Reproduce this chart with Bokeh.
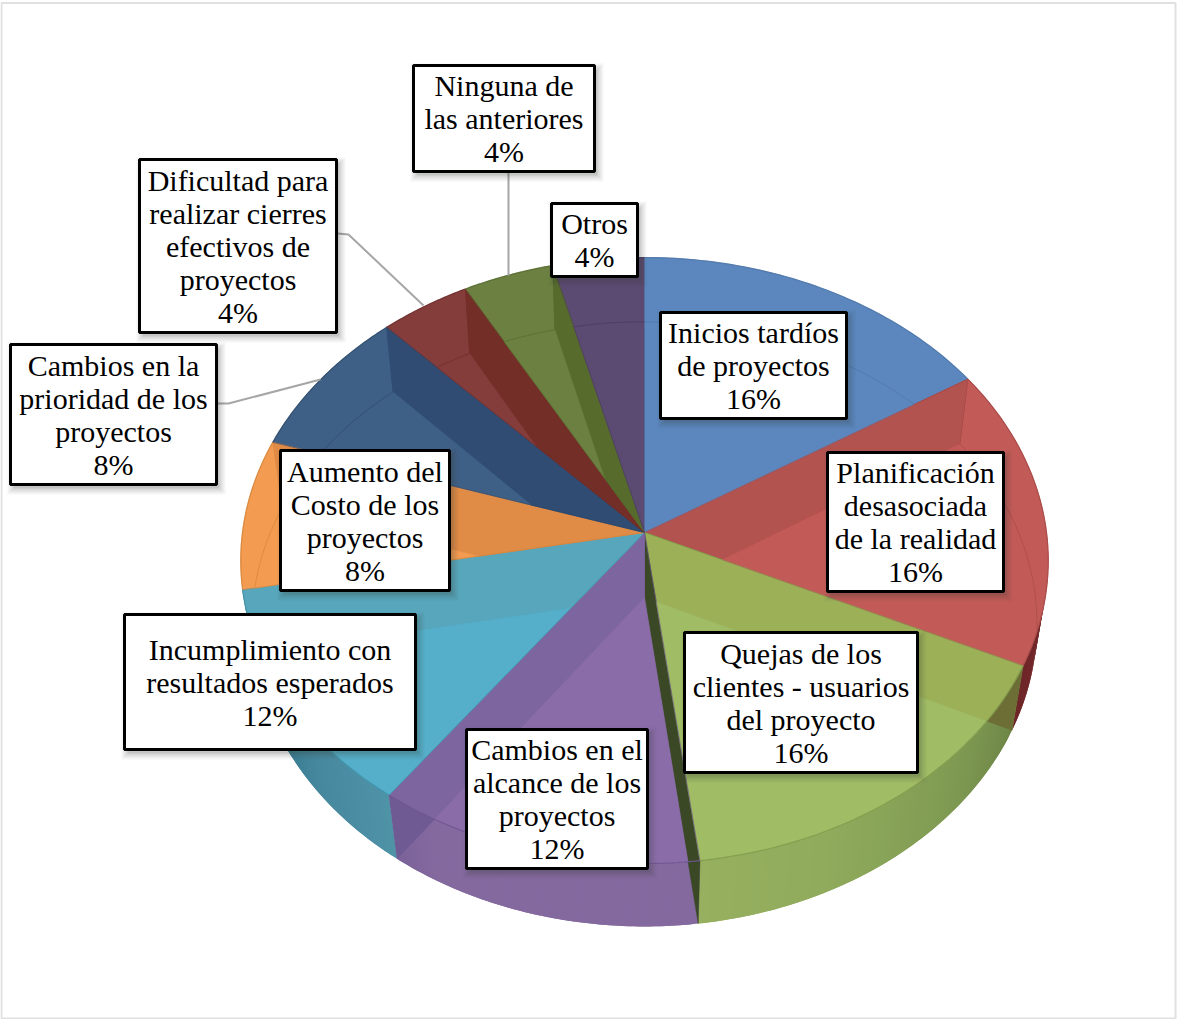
import numpy as np
from bokeh.core.properties import value
from bokeh.embed import file_html
from bokeh.models import ColumnDataSource
from bokeh.plotting import figure
from bokeh.resources import INLINE

# Survey results, clockwise from twelve o'clock
categories = [
    "Inicios tardíos\nde proyectos",
    "Planificación\ndesasociada\nde la realidad",
    "Quejas de los\nclientes - usuarios\ndel proyecto",
    "Cambios en el\nalcance de los\nproyectos",
    "Incumplimiento con\nresultados esperados",
    "Aumento del\nCosto de los\nproyectos",
    "Cambios en la\nprioridad de los\nproyectos",
    "Dificultad para\nrealizar cierres\nefectivos de\nproyectos",
    "Ninguna de\nlas anteriores",
    "Otros",
]
shares = [16, 16, 16, 12, 12, 8, 8, 4, 4, 4]

# Face colour and the darker colour of the cut wall seen through it
face_colors = ["#5B87BE", "#C25B58", "#A0BC65", "#8A6DA8", "#55AFCA",
               "#F39B50", "#3F6086", "#843D3B", "#6C8141", "#5B4A71"]
cut_colors = ["#5B87BE", "#B25350", "#9CB058", "#7D659F", "#58A6BB",
              "#E08B46", "#304C72", "#742E28", "#576B2D", "#5B4A71"]
# Same cuts where they run past the top rim and into the outer wall
cut_wall_colors = ["#5B87BE", "#8A3232", "#6C6E35", "#6F5A94", "#58A6BB",
                   "#E08B46", "#304C72", "#742E28", "#576B2D", "#5B4A71"]
rim_colors = ["#4F77A8", "#A84C4A", "#7F9A4C", "#6F5690", "#4090A8",
              "#D58538", "#2D4A6C", "#6E2E2C", "#556A30", "#483A5C"]
FRONT_CUT_COLOR = "#3B4826"

# Outer wall shading: (fraction through the slice, colour)
wall_stops = {
    1: [(0.0, "#8A3232"), (1.0, "#6E2628")],
    2: [(0.0, "#6D8446"), (0.3, "#7E9A52"), (0.7, "#90AB5C"), (1.0, "#96B05F")],
    3: [(0.0, "#84699F"), (0.85, "#84699F"), (1.0, "#7A6299")],
    4: [(0.0, "#4F93A7"), (0.35, "#46889E"), (0.65, "#35788F"), (1.0, "#58A6BB")],
}

# Label boxes: left, right, top, bottom
boxes = [
    (660, 846, 312, 418), (827, 1003, 452, 591), (684, 917, 632, 772),
    (466, 647, 729, 868), (124, 415, 614, 749), (280, 449, 450, 590),
    (10, 216, 344, 484), (139, 336, 159, 332), (413, 594, 65, 171),
    (551, 637, 203, 276),
]
# Leader lines from the outlying labels to their slices
leaders = [
    ([217, 228, 320], [403, 403, 379]),
    ([337, 348, 423], [233, 234, 305]),
    ([508, 508], [172, 275]),
]

LINE_STEP = 33
FONT = value("Liberation Serif")

# Projected circles of the pie's two faces: apex, radii, perspective term
TOP = dict(cx=644, cy=532, a=402, b=300.4, k=0.0925)
BASE = dict(cx=644, cy=597, a=391, b=300, k=0.088)


def project(face, theta):
    s, c = np.sin(theta), np.cos(theta)
    w = 1 + face["k"] * c
    return face["cx"] + face["a"] * s / w, face["cy"] - face["b"] * c / w


def arc(face, t0, t1, n=60):
    return project(face, np.linspace(t0, t1, n))


def wedge(face, t0, t1):
    x, y = arc(face, t0, t1)
    return list(zip(np.r_[face["cx"], x], np.r_[face["cy"], y]))


def enlarged(poly, factor):
    """The wedge scaled about its apex, its first point."""
    ax, ay = poly[0]
    return [(ax + (x - ax) * factor, ay + (y - ay) * factor) for x, y in poly]


def orientation(poly):
    return np.sign(sum(a[0] * b[1] - b[0] * a[1] for a, b in zip(poly, poly[1:] + poly[:1])))


def side(a, b, q):
    return (b[0] - a[0]) * (q[1] - a[1]) - (b[1] - a[1]) * (q[0] - a[0])


def clip(subject, clipper):
    """Intersection of a polygon with a convex polygon."""
    sign = orientation(clipper)
    out = list(subject)
    for a, b in zip(clipper, clipper[1:] + clipper[:1]):
        src, out = out, []
        for j, cur in enumerate(src):
            prev = src[j - 1]
            dc, dp = sign * side(a, b, cur), sign * side(a, b, prev)
            if (dc >= 0) != (dp >= 0):
                r = dp / (dp - dc)
                out.append((prev[0] + r * (cur[0] - prev[0]), prev[1] + r * (cur[1] - prev[1])))
            if dc >= 0:
                out.append(cur)
        if not out:
            return []
    return out


def inside(poly, q):
    sign = orientation(poly)
    return all(sign * side(a, b, q) >= 0 for a, b in zip(poly, poly[1:] + poly[:1]))


def mix(stops, f):
    for (f0, c0), (f1, c1) in zip(stops, stops[1:]):
        if f <= f1:
            r = (f - f0) / (f1 - f0) if f1 > f0 else 0
            rgb = [int(c0[i:i + 2], 16) * (1 - r) + int(c1[i:i + 2], 16) * r for i in (1, 3, 5)]
            return "#%02X%02X%02X" % tuple(int(round(v)) for v in rgb)
    return stops[-1][1]


def fill(poly, colour):
    if poly:
        xs, ys = zip(*poly)
        p.patch(list(xs), list(ys), fill_color=colour, line_color=colour, line_width=0.5)


edges = np.cumsum([0] + shares) / sum(shares) * 2 * np.pi
count = len(shares)
top_wedges = [wedge(TOP, edges[i], edges[i + 1]) for i in range(count)]
base_wedges = [wedge(BASE, edges[i], edges[i + 1]) for i in range(count)]

p = figure(width=1177, height=1019, x_range=(0, 1177), y_range=(1019, 0),
           output_backend="svg", toolbar_location=None, min_border=0,
           background_fill_color="white", border_fill_color="white",
           outline_line_color=None)
p.axis.visible = False
p.grid.visible = False

# Thin frame round the chart area
p.quad(left=[1], right=[1175], top=[2.5], bottom=[1018], fill_color=None,
       line_color="#E0E0E0", line_width=2)

# Outer wall of the slices facing the viewer: bands overlap so no seams show
for i, stops in wall_stops.items():
    n = 48
    ts = np.linspace(edges[i], edges[i + 1], n + 1)
    for j in range(n):
        end = ts[min(j + 2, n)]
        xa, ya = arc(TOP, ts[j], end, 4)
        xb, yb = arc(BASE, ts[j], end, 4)
        c = mix(stops, (j + 0.5) / n)
        p.patch(np.r_[xa, xb[::-1]], np.r_[ya, yb[::-1]], fill_color=c, line_color=None)

# Top faces
for i in range(count):
    fill(top_wedges[i], face_colors[i])

# Cut walls seen through the top face: right half falls in the next slice, left half in the previous
for k in range(1, count):
    theta = edges[k]
    owner = k if theta < np.pi else k - 1
    xa, ya = project(TOP, theta)
    xb, yb = project(BASE, theta)
    quad = [(TOP["cx"], TOP["cy"]), (xa, ya), (xb, yb), (BASE["cx"], BASE["cy"])]
    if k == 3:
        # The front-most cut belongs to the green slice and lies in the purple slice's face
        fill(clip(quad, enlarged(top_wedges[3], 1.4)), FRONT_CUT_COLOR)
    else:
        fill(clip(quad, enlarged(top_wedges[owner], 1.4)), cut_wall_colors[owner])
        fill(clip(quad, top_wedges[owner]), cut_colors[owner])

# Where top and base face of a slice overlap, the lighter colour shows
for i in range(count):
    fill(clip(base_wedges[i], top_wedges[i]), face_colors[i])

# Rims and radial seams
for i, colour in enumerate(rim_colors):
    xa, ya = arc(TOP, edges[i], edges[i + 1])
    p.line(xa, ya, line_color=colour, line_width=1.2, line_alpha=0.9)
    ex, ey = project(TOP, edges[i])
    p.line([TOP["cx"], ex], [TOP["cy"], ey], line_color=colour, line_width=0.8, line_alpha=0.8)
    xb, yb = arc(BASE, edges[i], edges[i + 1], 120)
    keep = [inside(top_wedges[i], q) for q in zip(xb, yb)]
    p.line(xb[keep], yb[keep], line_color=colour, line_width=1.0, line_alpha=0.75)

# Leader lines
for xs, ys in leaders:
    p.line(xs, ys, line_color="#A6A6A6", line_width=2)

# Soft shadows, then boxes, then label text
for grow, alpha in ((6, 0.05), (4, 0.07), (2, 0.09), (0, 0.12)):
    p.quad(left=[b[0] + 3 - grow for b in boxes], right=[b[1] + 3 + grow for b in boxes],
           top=[b[2] + 4 - grow for b in boxes], bottom=[b[3] + 4 + grow for b in boxes],
           fill_color="#3A3F3A", fill_alpha=alpha, line_color=None)
p.quad(left=[b[0] for b in boxes], right=[b[1] for b in boxes],
       top=[b[2] for b in boxes], bottom=[b[3] for b in boxes],
       fill_color="white", line_color="black", line_width=3)

tx, ty, tt = [], [], []
for name, share, b in zip(categories, shares, boxes):
    lines = name.split("\n") + [f"{share}%"]
    xc, yc = (b[0] + b[1]) / 2, (b[2] + b[3]) / 2
    for j, line in enumerate(lines):
        tx.append(xc)
        ty.append(yc + (j - (len(lines) - 1) / 2) * LINE_STEP)
        tt.append(line)
p.text("x", "y", text="t", source=ColumnDataSource(dict(x=tx, y=ty, t=tt)),
       text_font=FONT, text_font_size="30px", text_color="black",
       text_align="center", text_baseline="middle")

open("out.html", "w").write(file_html(p, INLINE))
